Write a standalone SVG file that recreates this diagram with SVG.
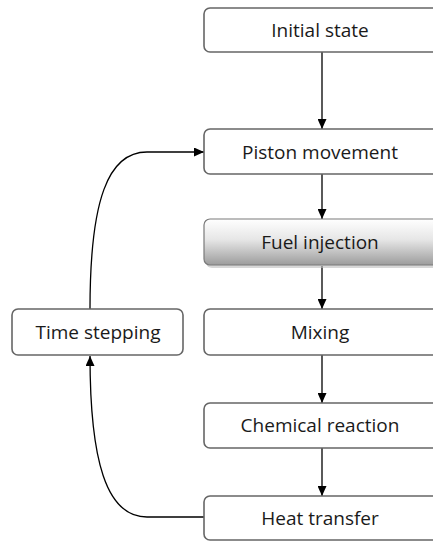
<svg xmlns="http://www.w3.org/2000/svg" width="433" height="542" viewBox="0 0 433 542">
<defs>
<linearGradient id="g" x1="0" y1="0" x2="0" y2="1">
<stop offset="0" stop-color="#ffffff"/>
<stop offset="0.45" stop-color="#e6e6e6"/>
<stop offset="1" stop-color="#9c9c9c"/>
</linearGradient>
<marker id="ah" viewBox="0 0 10 10" refX="10" refY="5" markerWidth="10" markerHeight="9" orient="auto" markerUnits="userSpaceOnUse" preserveAspectRatio="none">
<path d="M0,0 L10,5 L0,10 z" fill="#000"/>
</marker>
<style>
.box{fill:#fff;stroke:#666;stroke-width:1.6}
.t{font-family:"Open Sans","Liberation Sans",sans-serif;font-size:19px;fill:#1a1a1a;text-anchor:middle}
.c{fill:none;stroke:#000;stroke-width:1.3;marker-end:url(#ah)}
</style>
</defs>
<rect width="433" height="542" fill="#fff"/>
<g id="connectors">
<path class="c" d="M322 52 L322 129"/>
<path class="c" d="M322 174 L322 219"/>
<path class="c" d="M322 266 L322 309"/>
<path class="c" d="M322 355 L322 403"/>
<path class="c" d="M322 448 L322 496"/>
<path class="c" d="M90 309 C90 200 108 152 147 152 L204 152"/>
<path class="c" d="M204 517 L147 517 C106 517 90 460 90 356"/>
</g>
<g id="n-initial"><rect class="box" x="204" y="8" width="236" height="44" rx="6"/><text class="t" x="320" y="37">Initial state</text></g>
<g id="n-piston"><rect class="box" x="204" y="129" width="236" height="45" rx="6"/><text class="t" x="320" y="158.5">Piston movement</text></g>
<g id="n-fuel"><rect x="206" y="222" width="236" height="46" rx="6" fill="#bdbdbd" opacity="0.6"/><rect x="204" y="219" width="236" height="46" rx="6" fill="url(#g)" stroke="#7a7a7a" stroke-width="1.2"/><text class="t" x="320" y="248.5">Fuel injection</text></g>
<g id="n-mixing"><rect class="box" x="204" y="309" width="236" height="46" rx="6"/><text class="t" x="320" y="338.5">Mixing</text></g>
<g id="n-chem"><rect class="box" x="204" y="403" width="236" height="45" rx="6"/><text class="t" x="320" y="431.5">Chemical reaction</text></g>
<g id="n-heat"><rect class="box" x="204" y="496" width="236" height="44" rx="6"/><text class="t" x="320" y="524.5">Heat transfer</text></g>
<g id="n-time"><rect class="box" x="12" y="309" width="171" height="46" rx="6"/><text class="t" x="98" y="338.5">Time stepping</text></g>
</svg>
